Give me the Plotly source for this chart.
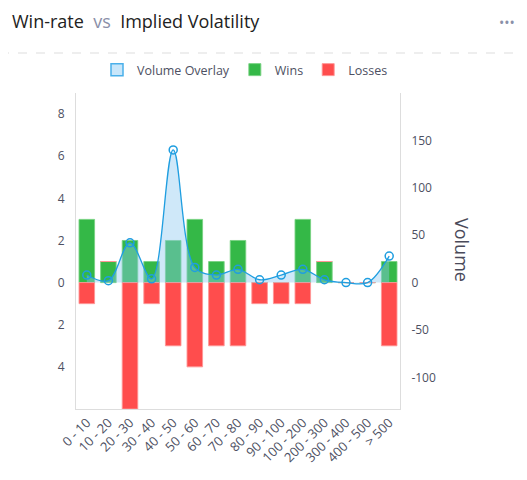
import plotly.graph_objects as go

categories = ["0 - 10", "10 - 20", "20 - 30", "30 - 40", "40 - 50", "50 - 60", "60 - 70",
              "70 - 80", "80 - 90", "90 - 100", "100 - 200", "200 - 300", "300 - 400",
              "400 - 500", "> 500"]
wins = [3, 1, 2, 1, 2, 3, 1, 2, 0, 0, 3, 1, 0, 0, 1]
losses = [-1, 0, -6, -1, -3, -4, -3, -3, -1, -1, -1, 0, 0, 0, -3]
volume = [8, 2, 42, 4, 140, 16, 8, 14, 3, 8, 14, 3, 0, 0, 28]

left_tickvals = [-4, -2, 0, 2, 4, 6, 8]
left_ticktext = ["4", "2", "0", "2", "4", "6", "8"]
right_tickvals = [-100, -50, 0, 50, 100, 150]
right_ticktext = ["-100", "-50", "0", "50", "100", "150"]

FONT = "'Open Sans', Lato, sans-serif"
TICK_COLOR = "#4d5062"

W, H = 519, 472
L, R, T, B = 68, 127, 85, 71
PW, PH = W - L - R, H - T - B


def px(x):
    return (x - L) / PW


def py(y):
    return (H - B - y) / PH


fig = go.Figure()
fig.add_trace(go.Bar(
    x=categories, y=wins, name="Wins", yaxis="y", legendrank=2,
    marker=dict(color="#34b847", line=dict(color="rgba(120,210,130,0.9)", width=1)),
    width=0.72,
))
fig.add_trace(go.Bar(
    x=categories, y=losses, name="Losses", yaxis="y", legendrank=3,
    marker=dict(color="#ff4d4d", line=dict(color="rgba(255,150,150,0.9)", width=1)),
    width=0.72,
))
# legend entry for the overlay (box symbol, as in the reference)
fig.add_trace(go.Bar(
    x=[None], y=[None], name="Volume Overlay", yaxis="y", legendrank=1,
    marker=dict(color="rgba(200,230,250,1)", line=dict(color="#4ab0ea", width=1.5)),
    width=0.72, legendgroup="vol",
))
fig.add_trace(go.Scatter(
    x=categories, y=volume, name="Volume Overlay", yaxis="y2", showlegend=False,
    legendgroup="vol",
    mode="lines+markers", line=dict(color="#1f9ee0", width=1.3, shape="spline", smoothing=1),
    marker=dict(symbol="circle-open", size=8, color="#1f9ee0", line=dict(width=1.5)),
    fill="tozeroy", fillcolor="rgba(140,200,240,0.42)",
))

fig.update_layout(
    width=W, height=H,
    margin=dict(l=L, r=R, t=T, b=B),
    paper_bgcolor="white", plot_bgcolor="white",
    barmode="relative",
    font=dict(family=FONT, color=TICK_COLOR, size=12),
    title=dict(
        text="Win-rate <span style='color:#8a8fa8'> vs </span> Implied Volatility",
        x=4 / W, xanchor="left", y=1 - 13.5 / H, yanchor="middle",
        font=dict(family=FONT, size=18, color="#222222"),
    ),
    legend=dict(
        orientation="h", x=px(237), xanchor="center", y=py(77), yanchor="bottom",
        font=dict(size=12.5, color=TICK_COLOR),
    ),
    xaxis=dict(
        showline=True, linecolor="#dddddd", linewidth=1, showgrid=False, zeroline=False,
        tickangle=-45, ticks="", tickfont=dict(size=13, color=TICK_COLOR),
    ),
    yaxis=dict(
        range=[-6, 9], showline=True, linecolor="#dddddd", linewidth=1,
        showgrid=False, zeroline=False, tickvals=left_tickvals, ticktext=left_ticktext,
        ticks="", ticklabelstandoff=8, tickfont=dict(size=12, color=TICK_COLOR),
    ),
    yaxis2=dict(
        range=[-400 / 3, 200], overlaying="y", side="right", showline=True,
        linecolor="#dddddd", linewidth=1, showgrid=False, zeroline=False,
        tickvals=right_tickvals, ticktext=right_ticktext, ticks="",
        ticklabelstandoff=8, tickfont=dict(size=12, color=TICK_COLOR),
    ),
    shapes=[
        dict(type="line", xref="paper", yref="paper", x0=px(-8), x1=px(W),
             y0=py(45), y1=py(45),
             line=dict(color="#dddddd", width=1, dash="dash")),
    ],
    annotations=[
        dict(text="Volume", xref="paper", yref="paper", x=px(454), y=py(242),
             textangle=90, showarrow=False, font=dict(family=FONT, size=18, color="#4a4a5a"),
             xanchor="center", yanchor="middle"),
        dict(text="•••", xref="paper", yref="paper", x=px(499), y=py(15),
             showarrow=False, font=dict(size=14, color="#8a90a8"),
             xanchor="center", yanchor="middle"),
    ],
)

fig.write_html("out.html")
